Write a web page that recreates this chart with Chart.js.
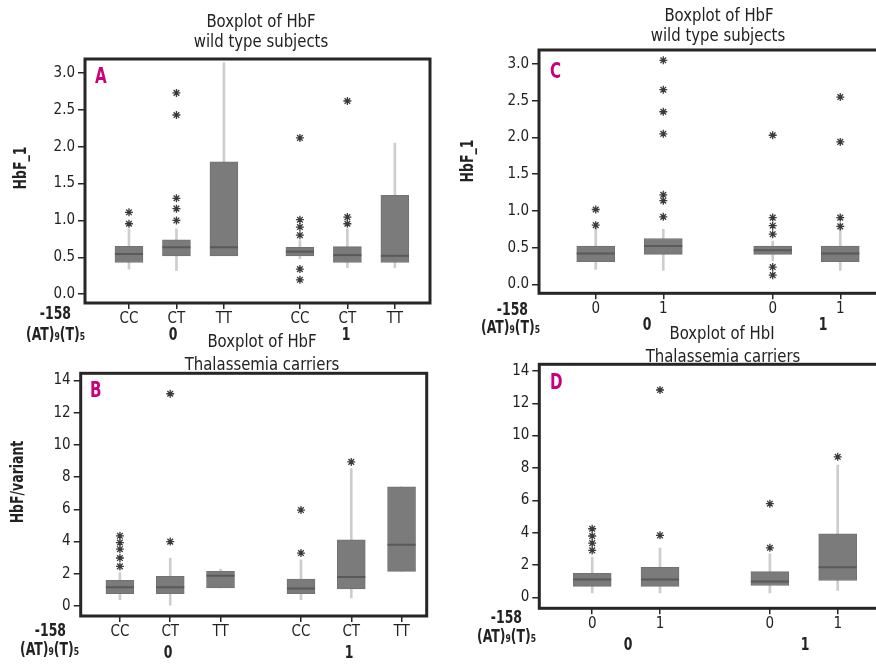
<!DOCTYPE html>
<html>
<head>
<meta charset="utf-8">
<script src="https://cdn.jsdelivr.net/npm/chart.js@4.4.1/dist/chart.umd.min.js"></script>
<style>
  html, body { margin: 0; padding: 0; background: #fff; width: 876px; height: 665px; overflow: hidden; }
  canvas { position: absolute; left: 0; top: 0; }
</style>
</head>
<body>
<canvas id="chartA" width="920" height="665"></canvas>
<canvas id="chartB" width="920" height="665"></canvas>
<canvas id="chartC" width="920" height="665"></canvas>
<canvas id="chartD" width="920" height="665"></canvas>
<script>
// categorias e rótulos
const genotypes = ['CC', 'CT', 'TT', 'CC', 'CT', 'TT'];
const carriers = ['0', '1', '0', '1'];
const ticksHbF = [0, 0.5, 1, 1.5, 2, 2.5, 3];
const ticksVariant = [0, 2, 4, 6, 8, 10, 12, 14];

// A: HbF_1, wild type, por genótipo -158
const aLow  = [0.34, 0.32, 0.52, 0.48, 0.36, 0.36];
const aQ1   = [0.43, 0.52, 0.52, 0.52, 0.43, 0.43];
const aMed  = [0.545, 0.636, 0.636, 0.577, 0.53, 0.52];
const aQ3   = [0.65, 0.736, 1.795, 0.636, 0.645, 1.34];
const aHigh = [0.886, 0.886, 3.14, 0.727, 0.886, 2.05];
const aOut  = [[1.11, 0.955], [2.73, 2.43, 1.30, 1.16, 1.0], [], [2.12, 1.01, 0.91, 0.80, 0.34, 0.195], [2.62, 1.045, 0.955], []];

// B: HbF/variant, talassemia, por genótipo -158
const bLow  = [0.4, 0, 1.12, 0.4, 0.5, 2.15];
const bQ1   = [0.77, 0.77, 1.12, 0.77, 1.06, 2.15];
const bMed  = [1.16, 1.16, 1.88, 1.08, 1.8, 3.8];
const bQ3   = [1.6, 1.84, 2.15, 1.68, 4.11, 7.4];
const bHigh = [2.07, 2.98, 2.3, 2.87, 8.54, 7.4];
const bOut  = [[4.36, 3.94, 3.53, 2.98, 2.46], [13.18, 4.0], [], [5.96, 3.29], [8.95], []];

// C: HbF_1, wild type, por portador
const cLow  = [0.205, 0.19, 0.32, 0.19];
const cQ1   = [0.31, 0.41, 0.41, 0.31];
const cMed  = [0.42, 0.524, 0.465, 0.42];
const cQ3   = [0.524, 0.625, 0.524, 0.524];
const cHigh = [0.80, 0.75, 0.59, 0.82];
const cOut  = [[1.02, 0.807], [3.05, 2.65, 2.35, 2.05, 1.22, 1.14, 0.92], [2.03, 0.91, 0.80, 0.684, 0.237, 0.127], [2.55, 1.94, 0.91, 0.79]];

// D: HbF/variant, talassemia, por portador
const dLow  = [0.27, 0.27, 0.27, 0.42];
const dQ1   = [0.68, 0.68, 0.73, 1.04];
const dMed  = [1.1, 1.1, 0.97, 1.86];
const dQ3   = [1.49, 1.86, 1.59, 3.93];
const dHigh = [2.48, 3.04, 2.69, 8.17];
const dOut  = [[4.24, 3.79, 3.35, 2.9], [12.82, 3.83], [5.79, 3.06], [8.69]];

const FONT = '"Liberation Sans Narrow", "DejaVu Sans Condensed", "Arial Narrow", sans-serif';
const INK = '#222';
const MAGENTA = '#c8007d';
Chart.defaults.font.family = FONT;

// moldura preta em volta da área do gráfico
const framePlugin = {
  id: 'frame',
  afterDatasetsDraw(chart) {
    const { ctx, chartArea: a } = chart;
    ctx.save();
    ctx.strokeStyle = '#262626';
    ctx.lineWidth = 3;
    ctx.strokeRect(a.left, a.top, a.right - a.left, a.bottom - a.top);
    ctx.restore();
  }
};

// textos soltos (títulos, letras, rótulos de grupo), com fonte estreitada por sx
function textPlugin(items) {
  return {
    id: 'texts',
    afterDraw(chart) {
      const ctx = chart.ctx;
      items.forEach(t => {
        ctx.save();
        ctx.fillStyle = t.color || INK;
        ctx.textBaseline = t.baseline || 'alphabetic';
        ctx.translate(t.x, t.y);
        if (t.rotate) ctx.rotate(t.rotate);
        ctx.scale(t.sx || 1, 1);
        if (t.parts) {
          // texto com subscritos, alinhado à direita
          let w = 0;
          t.parts.forEach(p => { ctx.font = p[1]; w += ctx.measureText(p[0]).width; });
          let x = -w;
          ctx.textAlign = 'left';
          t.parts.forEach(p => { ctx.font = p[1]; ctx.fillText(p[0], x, 0); x += ctx.measureText(p[0]).width; });
        } else {
          ctx.font = t.font;
          ctx.textAlign = t.align || 'center';
          ctx.fillText(t.text, 0, 0);
        }
        ctx.restore();
      });
    }
  };
}

const fTitle = '18px ' + FONT;
const fBold = 'bold 18px ' + FONT;
const fLetter = 'bold 21px ' + FONT;
const fSub = 'bold 11px ' + FONT;
const sxTitle = 0.92, sxBold = 0.77, sxLetter = 0.8;
const atParts = [['(AT)', fBold], ['9', fSub], ['(T)', fBold], ['5', fSub]];

function boxChart(id, p) {
  const half = p.cats.length / 2;
  const xs = p.cats.map((c, i) => i + (i >= half ? p.gap : 0));
  const whiskers = xs.map((x, i) => ({ x: x, y: [p.low[i], p.high[i]] }));
  const boxes = xs.map((x, i) => ({ x: x, y: [p.q1[i], p.q3[i]] }));
  const medians = xs.map((x, i) => ({ x: x, y: p.med[i] }));
  const outliers = [];
  p.out.forEach((arr, i) => arr.forEach(v => outliers.push({ x: xs[i], y: v })));
  const a = p.area;

  const tickGrid = len => ({ display: true, drawOnChartArea: false, drawTicks: true, tickLength: len, color: '#262626', lineWidth: 1.5, offset: false });

  new Chart(document.getElementById(id), {
    type: 'bar',
    data: {
      datasets: [
        { type: 'scatter', data: outliers, pointStyle: 'star', radius: 4, borderWidth: 1.3, borderColor: '#3a3a3a', backgroundColor: '#3a3a3a', order: 0 },
        { type: 'scatter', data: medians, pointStyle: 'line', radius: p.boxW / 2, borderWidth: 2, borderColor: '#595959', order: 1 },
        { data: boxes, backgroundColor: '#7b7b7b', borderColor: '#727272', borderWidth: 1, borderSkipped: false, barThickness: p.boxW, grouped: false, order: 2 },
        { data: whiskers, backgroundColor: '#cdcdcd', borderWidth: 0, barThickness: 2, grouped: false, order: 3 }
      ]
    },
    options: {
      responsive: false,
      animation: false,
      events: [],
      layout: { padding: { left: a.left - 40, top: a.top, right: 920 - a.right, bottom: 665 - a.bottom - 30 } },
      plugins: { legend: { display: false }, tooltip: { enabled: false } },
      scales: {
        x: {
          type: 'linear', min: p.xMin, max: p.xMax, offset: false,
          afterBuildTicks: s => { s.ticks = xs.map(v => ({ value: v })); },
          afterFit: s => { s.height = 30; },
          ticks: { autoSkip: false, maxRotation: 0, padding: 1, color: INK, font: { size: 15 }, callback: (v, i) => p.cats[i] },
          grid: tickGrid(6),
          border: { display: false }
        },
        y: {
          min: p.yMin, max: p.yMax,
          afterBuildTicks: s => { s.ticks = p.yTicks.map(v => ({ value: v })); },
          afterFit: s => { s.width = 40; },
          ticks: { padding: 3, color: INK, font: { size: 15 }, callback: v => p.dec ? v.toFixed(1) : String(v) },
          grid: tickGrid(7),
          border: { display: false }
        }
      }
    },
    plugins: [framePlugin, textPlugin(p.texts)]
  });
}

boxChart('chartA', {
  cats: genotypes, low: aLow, q1: aQ1, med: aMed, q3: aQ3, high: aHigh, out: aOut,
  yTicks: ticksHbF, dec: true, yMin: -0.12, yMax: 3.19, xMin: -0.926, xMax: 6.34, gap: 0.6, boxW: 28,
  area: { left: 85, top: 59, right: 430, bottom: 303 },
  texts: [
    { text: 'Boxplot of HbF', x: 261, y: 26.5, font: fTitle, sx: sxTitle },
    { text: 'wild type subjects', x: 261, y: 47, font: fTitle, sx: sxTitle },
    { text: 'HbF_1', x: 21, y: 168, font: fBold, rotate: -Math.PI / 2, baseline: 'middle', sx: sxBold },
    { text: 'A', x: 95, y: 83, font: fLetter, align: 'left', color: MAGENTA, sx: sxLetter },
    { text: '-158', x: 71, y: 319, font: fBold, align: 'right', sx: sxBold },
    { parts: atParts, x: 85, y: 340, sx: sxBold },
    { text: '0', x: 173, y: 340, font: fBold, sx: sxBold },
    { text: '1', x: 346, y: 340, font: fBold, sx: sxBold }
  ]
});

boxChart('chartB', {
  cats: genotypes, low: bLow, q1: bQ1, med: bMed, q3: bQ3, high: bHigh, out: bOut,
  yTicks: ticksVariant, dec: false, yMin: -0.62, yMax: 14.45, xMin: -0.78, xMax: 6.1, gap: 0.6, boxW: 28,
  area: { left: 80.7, top: 373.3, right: 426.7, bottom: 616 },
  texts: [
    { text: 'Boxplot of HbF', x: 262, y: 347, font: fTitle, sx: sxTitle },
    { text: 'Thalassemia carriers', x: 262, y: 370, font: fTitle, sx: sxTitle },
    { text: 'HbF/variant', x: 18, y: 482, font: fBold, rotate: -Math.PI / 2, baseline: 'middle', sx: sxBold },
    { text: 'B', x: 90, y: 396.5, font: fLetter, align: 'left', color: MAGENTA, sx: sxLetter },
    { text: '-158', x: 66, y: 636, font: fBold, align: 'right', sx: sxBold },
    { parts: atParts, x: 79, y: 655, sx: sxBold },
    { text: '0', x: 168, y: 658, font: fBold, sx: sxBold },
    { text: '1', x: 349, y: 658, font: fBold, sx: sxBold }
  ]
});

boxChart('chartC', {
  cats: carriers, low: cLow, q1: cQ1, med: cMed, q3: cQ3, high: cHigh, out: cOut,
  yTicks: ticksHbF, dec: true, yMin: -0.12, yMax: 3.19, xMin: -0.84, xMax: 4.46, gap: 0.62, boxW: 38,
  area: { left: 539, top: 50, right: 897, bottom: 293.3 },
  texts: [
    { text: 'Boxplot of HbF', x: 719, y: 20.5, font: fTitle, sx: sxTitle },
    { text: 'wild type subjects', x: 718, y: 41.3, font: fTitle, sx: sxTitle },
    { text: 'HbF_1', x: 468, y: 161, font: fBold, rotate: -Math.PI / 2, baseline: 'middle', sx: sxBold },
    { text: 'C', x: 550, y: 78.3, font: fLetter, align: 'left', color: MAGENTA, sx: sxLetter },
    { text: '-158', x: 528, y: 315, font: fBold, align: 'right', sx: sxBold },
    { parts: atParts, x: 540, y: 333, sx: sxBold },
    { text: '0', x: 647, y: 330, font: fBold, sx: sxBold },
    { text: '1', x: 823, y: 330, font: fBold, sx: sxBold }
  ]
});

boxChart('chartD', {
  cats: carriers, low: dLow, q1: dQ1, med: dMed, q3: dQ3, high: dHigh, out: dOut,
  yTicks: ticksVariant, dec: false, yMin: -0.68, yMax: 14.41, xMin: -0.78, xMax: 4.4, gap: 0.62, boxW: 38,
  area: { left: 539.3, top: 364.3, right: 890.6, bottom: 608.3 },
  texts: [
    { text: 'Boxplot of HbI', x: 722, y: 339, font: fTitle, sx: sxTitle },
    { text: 'Thalassemia carriers', x: 723, y: 361.5, font: fTitle, sx: sxTitle },
    { text: 'D', x: 550, y: 389.3, font: fLetter, align: 'left', color: MAGENTA, sx: sxLetter },
    { text: '-158', x: 522, y: 623, font: fBold, align: 'right', sx: sxBold },
    { parts: atParts, x: 536, y: 642, sx: sxBold },
    { text: '0', x: 628, y: 650, font: fBold, sx: sxBold },
    { text: '1', x: 805, y: 650, font: fBold, sx: sxBold }
  ]
});
</script>
</body>
</html>
